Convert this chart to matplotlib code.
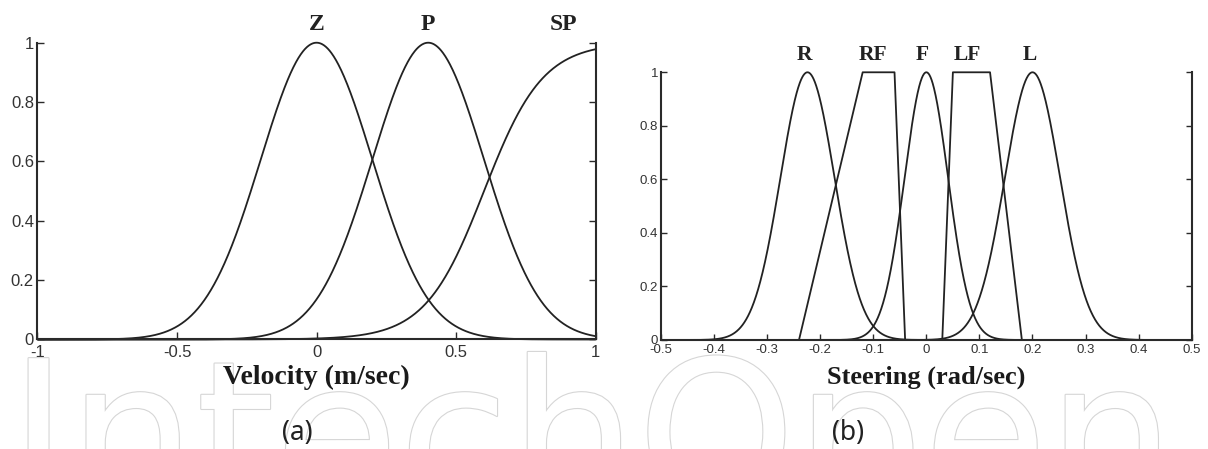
import numpy as np
import matplotlib
matplotlib.use("Agg")
import matplotlib.pyplot as plt
import matplotlib.patheffects as pe

# (a) velocity membership functions
vel_gauss_names = ["Z", "P"]
vel_gauss_c = [0.0, 0.4]
vel_gauss_s = [0.2, 0.2]
vel_sig_name = "SP"
vel_sig_c = 0.6
vel_sig_a = 9.5

# (b) steering membership functions
steer_gauss_names = ["R", "F", "L"]
steer_gauss_c = [-0.224, 0.0, 0.2]
steer_gauss_s = [0.051, 0.041, 0.052]
steer_trap_names = ["RF", "LF"]
steer_trap_pts = [[-0.24, -0.12, -0.06, -0.04],
                  [0.03, 0.05, 0.12, 0.18]]

vel_ticks = [-1, -0.5, 0, 0.5, 1]
steer_ticks = [-0.5, -0.4, -0.3, -0.2, -0.1, 0, 0.1, 0.2, 0.3, 0.4, 0.5]
y_ticks = [0, 0.2, 0.4, 0.6, 0.8, 1]


def gaussmf(x, c, s):
    return np.exp(-(x - c) ** 2 / (2 * s ** 2))


def sigmf(x, a, c):
    return 1 / (1 + np.exp(-a * (x - c)))


def trapmf(x, p):
    return np.interp(x, p, [0, 1, 1, 0])


line_kw = dict(color="#222222", lw=1.3, clip_on=False, solid_capstyle="butt")

fig = plt.figure(figsize=(12.08, 4.49), dpi=100)

# faint publisher watermark along the bottom
fig.text(0.49, 1 - 505 / 449, "IntechOpen", ha="center", va="baseline",
         fontsize=145, family="DejaVu Sans", color="white", zorder=-5,
         path_effects=[pe.withStroke(linewidth=1.6, foreground="#d6d6d6")])


def style_axes(ax, ticks, xlim, fs, tlen, xpad, ypad):
    ax.set_xlim(*xlim)
    ax.set_ylim(0, 1)
    ax.set_facecolor("none")
    ax.spines["top"].set_visible(False)
    for side in ["left", "right", "bottom"]:
        ax.spines[side].set_linewidth(1.5)
        ax.spines[side].set_color("#2a2a2a")
    ax.set_xticks(ticks)
    ax.set_xticklabels(["%g" % t for t in ticks])
    ax.set_yticks(y_ticks)
    ax.set_yticklabels(["%g" % t for t in y_ticks])
    ax.tick_params(axis="both", direction="in", length=tlen, width=1.0,
                   color="#2a2a2a", labelsize=fs, labelcolor="#333333")
    ax.tick_params(axis="x", pad=xpad, top=False)
    ax.tick_params(axis="y", pad=ypad, right=True)
    for lab in ax.get_xticklabels() + ax.get_yticklabels():
        lab.set_family("Liberation Sans")


# panel (a)
ax1 = fig.add_axes([0.0310, 0.2439, 0.4621, 0.6610])
x1 = np.linspace(-1, 1, 1201)
for c, s in zip(vel_gauss_c, vel_gauss_s):
    ax1.plot(x1, gaussmf(x1, c, s), **line_kw)
ax1.plot(x1, sigmf(x1, vel_sig_a, vel_sig_c), **line_kw)
style_axes(ax1, vel_ticks, (-1, 1), 12, 5, 4, 2.5)
for name, xp in zip(vel_gauss_names + [vel_sig_name], [0.0, 0.4, 0.885]):
    ax1.text(xp, 1.06, name, ha="center", va="center", fontsize=17,
             family="Liberation Serif", weight="bold", color="#222222")
ax1.set_xlabel("Velocity (m/sec)", family="Liberation Serif", weight="bold",
               fontsize=20, color="#1a1a1a", va="center")
ax1.xaxis.set_label_coords(0.5, -0.128)

# panel (b)
ax2 = fig.add_axes([0.5472, 0.2428, 0.4393, 0.5962])
x2 = np.linspace(-0.5, 0.5, 2001)
for c, s in zip(steer_gauss_c, steer_gauss_s):
    ax2.plot(x2, gaussmf(x2, c, s), **line_kw)
for p in steer_trap_pts:
    ax2.plot(x2, trapmf(x2, p), **line_kw)
style_axes(ax2, steer_ticks, (-0.5, 0.5), 9.5, 4, 3, 2)
for name, xp in zip(["R", "RF", "F", "LF", "L"],
                    [-0.229, -0.10, -0.008, 0.077, 0.195]):
    ax2.text(xp, 1.065, name, ha="center", va="center", fontsize=15.5,
             family="Liberation Serif", weight="bold", color="#222222")
ax2.set_xlabel("Steering (rad/sec)", family="Liberation Serif", weight="bold",
               fontsize=19, color="#1a1a1a", va="center")
ax2.xaxis.set_label_coords(0.5, -0.14)

# sub-figure labels
fig.text(297 / 1208, 1 - 433 / 449, "(a)", ha="center", va="center",
         fontsize=19, family="Noto Sans", color="#222222")
fig.text(848 / 1208, 1 - 433 / 449, "(b)", ha="center", va="center",
         fontsize=19, family="Noto Sans", color="#222222")

fig.savefig("out.png", dpi=100)
